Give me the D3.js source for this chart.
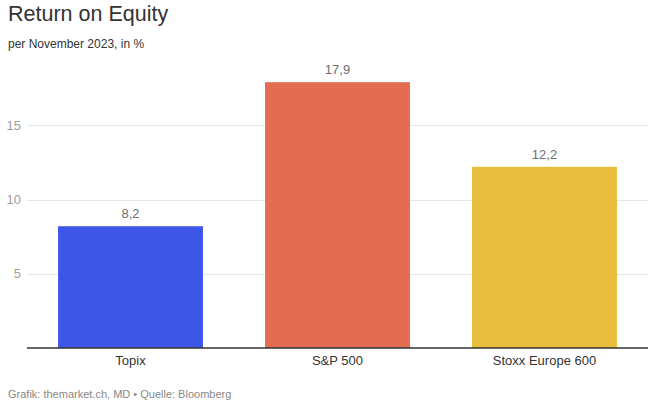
<!DOCTYPE html>
<html>
<head>
<meta charset="utf-8">
<script src="https://cdn.jsdelivr.net/npm/d3@7"></script>
<style>
  body { margin: 0; background: #fff; }
  svg { font-family: Arial, "Liberation Sans", sans-serif; display: block; }
  .grid line { stroke: #e6e6e6; }
  .axisY text { fill: #9e9e9e; font-size: 13px; }
</style>
</head>
<body>
<svg id="chart"></svg>
<script>
const categories = ["Topix", "S&P 500", "Stoxx Europe 600"];
const values = [8.2, 17.9, 12.2];
const colors = ["#3d56e8", "#e36c51", "#e8bd3b"];
const yTicks = [5, 10, 15];

const width = 653, height = 401;
const margin = { top: 51, right: 5, bottom: 53, left: 27 };

const svg = d3.select("#chart")
  .attr("width", width)
  .attr("height", height);

const x = d3.scaleBand()
  .domain(categories)
  .range([margin.left, width - margin.right])
  .paddingInner(0.3)
  .paddingOuter(0.15);

const y = d3.scaleLinear()
  .domain([0, 20])
  .range([height - margin.bottom, margin.top]);

// gridlines
svg.append("g")
  .attr("class", "grid")
  .selectAll("line")
  .data(yTicks)
  .enter().append("line")
  .attr("x1", margin.left)
  .attr("x2", width - margin.right)
  .attr("y1", d => Math.round(y(d)) + 0.5)
  .attr("y2", d => Math.round(y(d)) + 0.5);

// y axis labels
svg.append("g")
  .attr("class", "axisY")
  .attr("transform", `translate(${margin.left - 6}, 0)`)
  .call(d3.axisLeft(y).tickValues(yTicks).tickSize(0).tickPadding(0))
  .call(g => g.select(".domain").remove())
  .call(g => g.selectAll("text").attr("font-family", null).attr("font-size", null));

// bars
svg.selectAll(".bar")
  .data(values)
  .enter().append("rect")
  .attr("class", "bar")
  .attr("x", (d, i) => x(categories[i]))
  .attr("width", x.bandwidth())
  .attr("y", d => y(d))
  .attr("height", d => y(0) - y(d))
  .attr("fill", (d, i) => colors[i]);

// value labels
svg.selectAll(".val")
  .data(values)
  .enter().append("text")
  .attr("class", "val")
  .attr("x", (d, i) => x(categories[i]) + x.bandwidth() / 2)
  .attr("y", d => y(d) - 8)
  .attr("text-anchor", "middle")
  .attr("fill", "#6e6e6e")
  .attr("font-size", 13)
  .text(d => d.toFixed(1).replace(".", ","));

// baseline
svg.append("line")
  .attr("x1", margin.left)
  .attr("x2", width - margin.right)
  .attr("y1", y(0))
  .attr("y2", y(0))
  .attr("stroke", "#333")
  .attr("stroke-width", 1.3);

// x axis labels
svg.append("g")
  .attr("transform", `translate(0, ${y(0)})`)
  .call(d3.axisBottom(x).tickSize(0).tickPadding(0))
  .call(g => g.select(".domain").remove())
  .call(g => g.selectAll("text")
    .attr("font-family", null)
    .attr("font-size", 13)
    .attr("fill", "#333")
    .attr("dy", null)
    .attr("y", 17));

// titles
svg.append("text")
  .attr("x", 8).attr("y", 21)
  .attr("fill", "#333")
  .attr("font-size", 21.5)
  .text("Return on Equity");

svg.append("text")
  .attr("x", 8).attr("y", 48)
  .attr("fill", "#333")
  .attr("font-size", 12)
  .text("per November 2023, in %");

svg.append("text")
  .attr("x", 8).attr("y", 398)
  .attr("fill", "#888")
  .attr("font-size", 11)
  .text("Grafik: themarket.ch, MD \u2022 Quelle: Bloomberg");
</script>
</body>
</html>
